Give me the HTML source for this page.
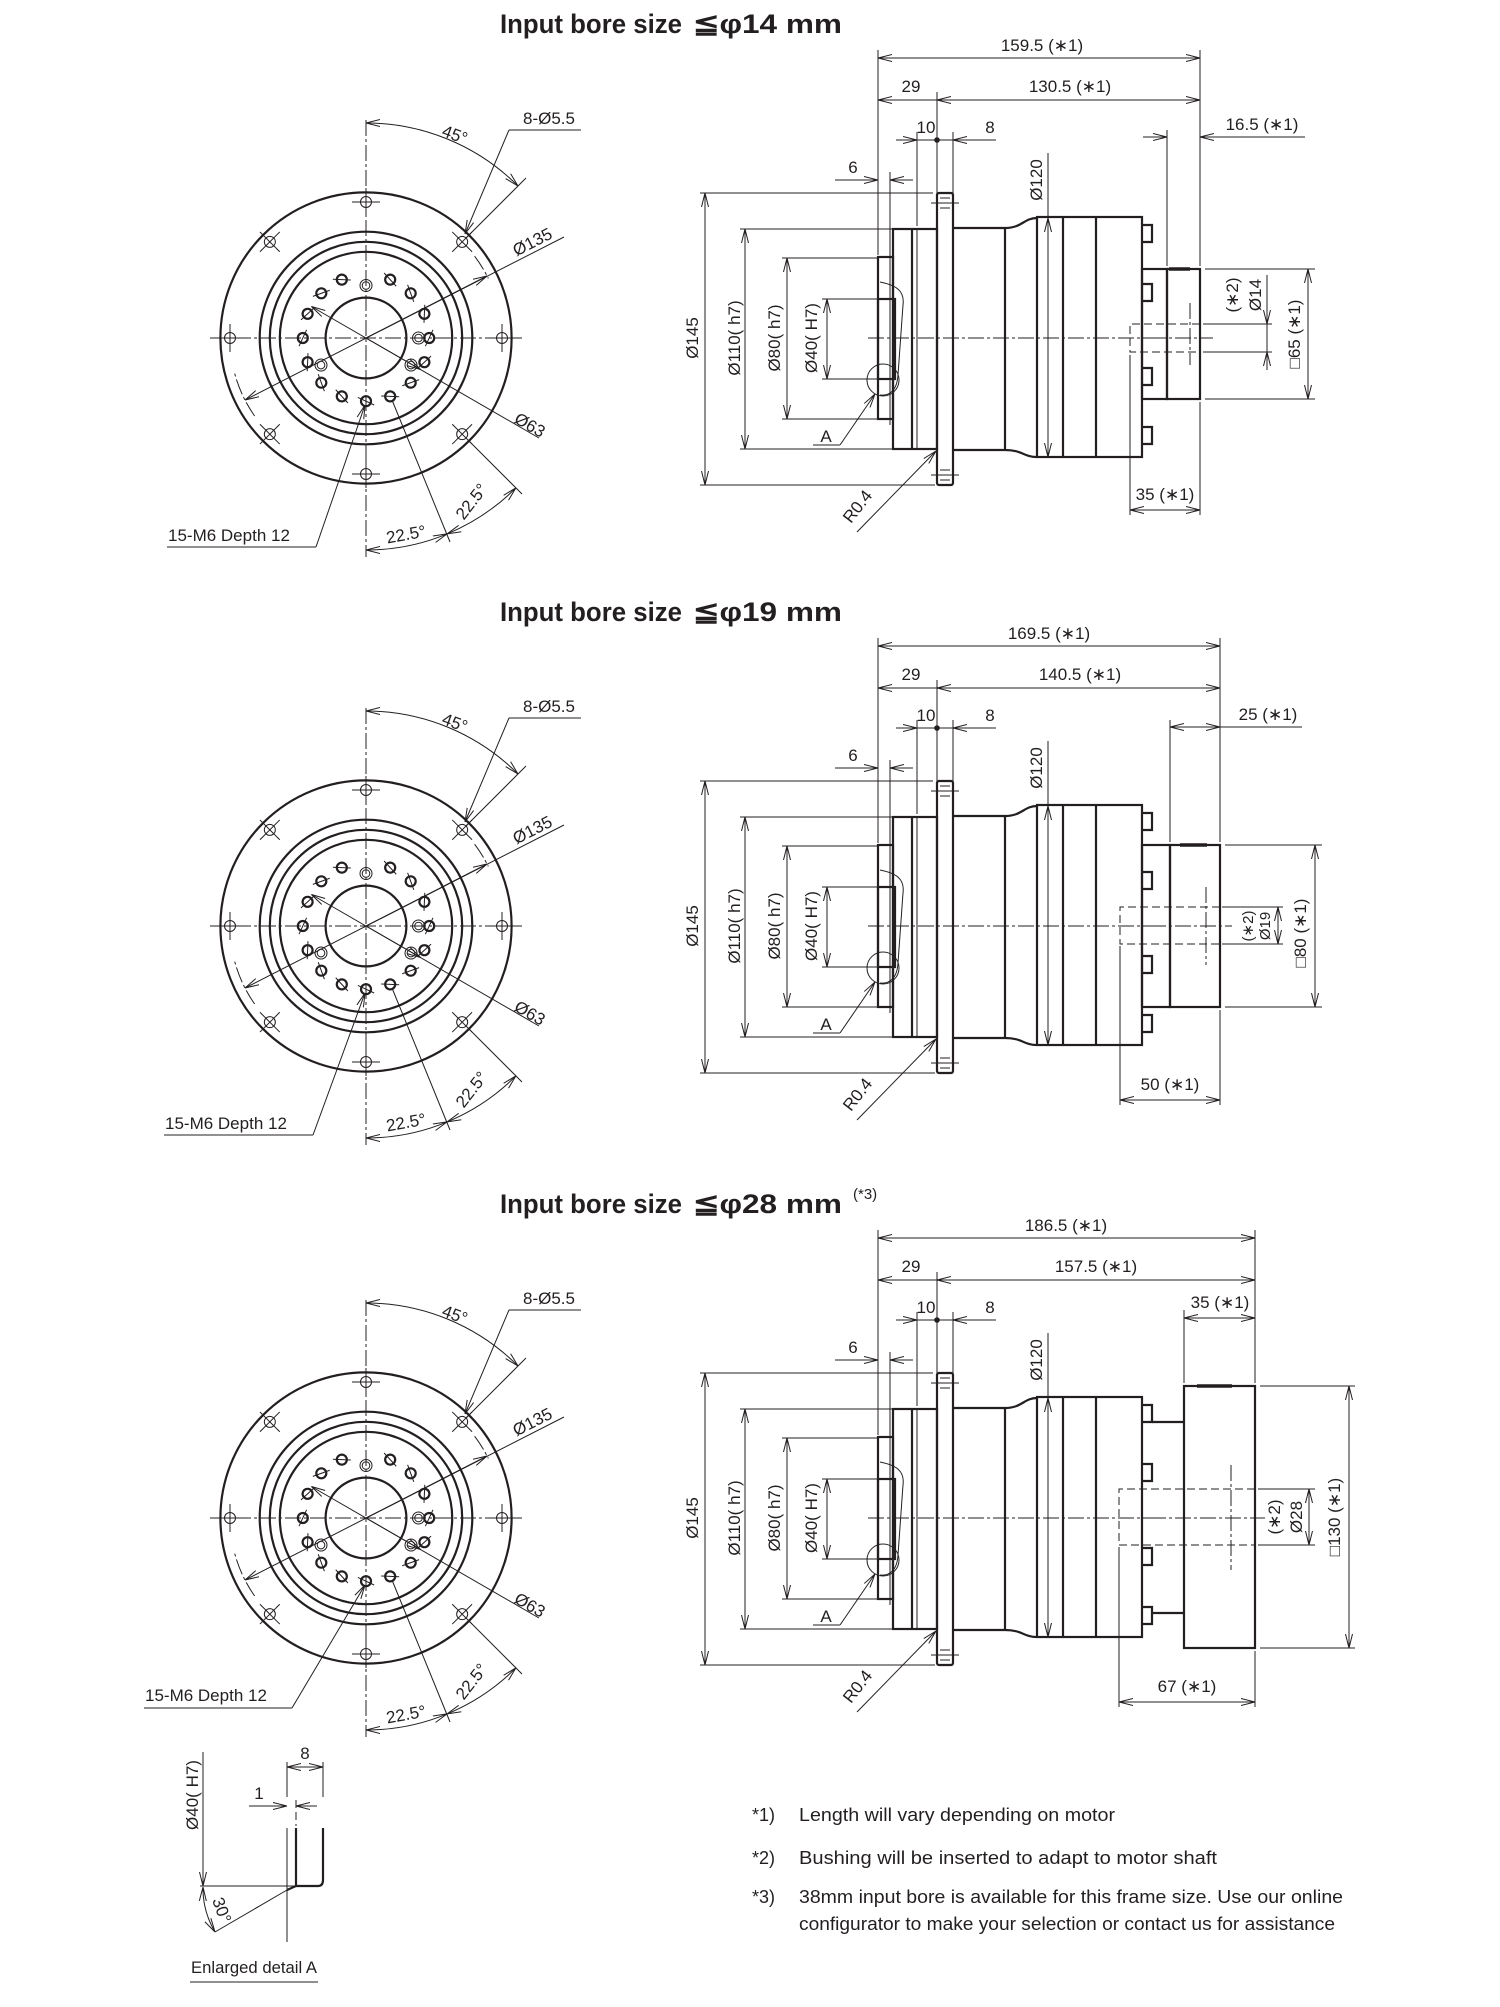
<!DOCTYPE html>
<html><head><meta charset="utf-8"><style>
html,body{margin:0;padding:0;background:#fff}
svg{display:block}
.k{stroke:#231f20;fill:none;stroke-width:2.2}
.t{stroke:#231f20;fill:none;stroke-width:1}
.c{stroke:#231f20;fill:none;stroke-width:1;stroke-dasharray:16 3 3 3}
.d{stroke:#231f20;fill:none;stroke-width:1;stroke-dasharray:8 4}
.m{stroke:#231f20;fill:none;stroke-width:1}
text{fill:#231f20;font-family:"Liberation Sans Narrow","Liberation Sans",sans-serif;font-size:17px}
.ti{font-family:"Liberation Sans",sans-serif;font-weight:bold;font-size:27px}
.no{font-family:"Liberation Sans",sans-serif;font-size:18px}
</style></head><body>
<svg width="1500" height="2007" viewBox="0 0 1500 2007" xmlns="http://www.w3.org/2000/svg">
<defs>
<marker id="a" viewBox="0 0 14 8" refX="14" refY="4" markerWidth="14" markerHeight="8" markerUnits="userSpaceOnUse" orient="auto-start-reverse"><path d="M0,0.5 L14,4 L0,7.5" fill="none" stroke="#231f20" stroke-width="1"/></marker>

<g id="front">
<circle class="k" r="145.6"/><circle class="k" r="106.3"/><circle class="k" r="96.2"/><circle class="k" r="86.2"/><circle class="k" r="40.4"/>
<line class="c" x1="-156" y1="0" x2="156" y2="0"/><line class="c" x1="0" y1="-218" x2="0" y2="219"/>
<g id="oh"><circle class="t" cx="136" cy="0" r="5.5" stroke-width="1.3"/><line class="t" x1="122" y1="0" x2="150" y2="0"/><line class="t" x1="136" y1="-14" x2="136" y2="14"/></g>
<use href="#oh" transform="rotate(45)"/><use href="#oh" transform="rotate(90)"/><use href="#oh" transform="rotate(135)"/><use href="#oh" transform="rotate(180)"/><use href="#oh" transform="rotate(225)"/><use href="#oh" transform="rotate(270)"/><use href="#oh" transform="rotate(315)"/>
<g id="bh"><circle class="k" cx="63.2" cy="0" r="5" stroke-width="1.8"/><line class="t" x1="63.2" y1="-9" x2="63.2" y2="9" transform="rotate(25 63.2 0)"/></g>
<use href="#bh" transform="rotate(22.5)"/><use href="#bh" transform="rotate(45)"/><use href="#bh" transform="rotate(67.5)"/><use href="#bh" transform="rotate(90)"/><use href="#bh" transform="rotate(112.5)"/><use href="#bh" transform="rotate(135)"/><use href="#bh" transform="rotate(157.5)"/><use href="#bh" transform="rotate(180)"/><use href="#bh" transform="rotate(202.5)"/><use href="#bh" transform="rotate(225)"/><use href="#bh" transform="rotate(247.5)"/><use href="#bh" transform="rotate(292.5)"/><use href="#bh" transform="rotate(315)"/><use href="#bh" transform="rotate(337.5)"/>
<g id="dw"><circle class="t" cx="52.5" cy="0" r="6" stroke-width="1.4"/><circle class="t" cx="52.5" cy="0" r="3.8" stroke-width="1.4"/></g>
<use href="#dw" transform="rotate(-90)"/><use href="#dw" transform="rotate(31)"/><use href="#dw" transform="rotate(149)"/>
<path class="c" d="M-111.4,78 A136,136 0 0 1 -131.4,35.2"/><path class="c" d="M108.6,-81.8 A136,136 0 0 1 122.3,-59.6"/>
<line class="m" x1="198" y1="-101" x2="-121" y2="62" marker-end="url(#a)"/>
<line class="m" x1="0" y1="0" x2="121" y2="-62" marker-end="url(#a)"/>
<line class="m" x1="173" y1="100" x2="-54.6" y2="-31.5" marker-end="url(#a)"/>
<line class="m" x1="0" y1="0" x2="54.6" y2="31.5" marker-end="url(#a)"/>
<path class="m" d="M0,-215 A215,215 0 0 1 152,-152" marker-start="url(#a)" marker-end="url(#a)"/>
<line class="t" x1="100" y1="-100" x2="160" y2="-160"/>
<line class="m" x1="143" y1="-208" x2="99" y2="-104" marker-end="url(#a)"/>
<line class="t" x1="143" y1="-208" x2="215" y2="-208"/>
<path class="m" d="M0,212 A212,212 0 0 0 81.1,195.9" marker-start="url(#a)" marker-end="url(#a)"/>
<path class="m" d="M81.1,195.9 A212,212 0 0 0 149.9,149.9" marker-start="url(#a)" marker-end="url(#a)"/>
<line class="t" x1="26" y1="62" x2="84" y2="204"/>
<line class="t" x1="102" y1="102" x2="156" y2="156"/>
</g>

<g id="side">
<rect class="k" x="937" y="193" width="16" height="292" rx="2"/>
<line class="t" x1="931" y1="203" x2="959" y2="203"/><line class="t" x1="931" y1="475" x2="959" y2="475"/>
<line class="t" x1="940" y1="198" x2="950" y2="198"/><line class="t" x1="940" y1="208" x2="950" y2="208"/>
<line class="t" x1="940" y1="470" x2="950" y2="470"/><line class="t" x1="940" y1="480" x2="950" y2="480"/>
<rect class="k" x="893" y="229" width="44" height="220"/>
<line class="k" x1="912" y1="229" x2="912" y2="449"/><line class="t" x1="917" y1="229" x2="917" y2="449"/>
<rect class="k" x="878" y="257" width="15" height="162" stroke-width="1.6"/>
<line class="t" x1="890" y1="250" x2="890" y2="425"/>
<rect class="k" x="878" y="299" width="17" height="80" stroke-width="2.6"/>
<path class="t" d="M880,282 C895,285 905,290 903,305 L898,375 C897,392 888,396 880,395"/>
<circle class="t" cx="883" cy="380" r="16"/>
<line class="k" x1="953" y1="228" x2="1005" y2="228"/><line class="k" x1="953" y1="450" x2="1005" y2="450"/>
<line class="k" x1="1005" y1="228" x2="1005" y2="450"/>
<path class="k" d="M1005,228 C1022,228 1024,218 1037,218"/><path class="k" d="M1005,450 C1022,450 1024,457 1037,457"/>
<rect class="k" x="1037" y="217" width="105" height="240"/>
<line class="k" x1="1063" y1="217" x2="1063" y2="457"/><line class="k" x1="1096" y1="217" x2="1096" y2="457"/>
<path class="k" d="M1142,225 H1152 V242 H1142 M1142,284 H1152 V301 H1142 M1142,368 H1152 V385 H1142 M1142,427 H1152 V444 H1142" stroke-width="1.8"/>
<line class="c" x1="868" y1="338" x2="1150" y2="338"/>
<line class="t" x1="878" y1="50" x2="878" y2="255"/>
<line class="t" x1="937" y1="92" x2="937" y2="193"/>
<line class="m" x1="937" y1="100" x2="878" y2="100" marker-end="url(#a)"/>
<line class="t" x1="917" y1="132" x2="917" y2="226"/><line class="t" x1="953" y1="132" x2="953" y2="193"/>
<line class="m" x1="896" y1="140" x2="917" y2="140" marker-end="url(#a)"/>
<line class="m" x1="996" y1="140" x2="953" y2="140" marker-end="url(#a)"/>
<line class="t" x1="917" y1="140" x2="953" y2="140"/>
<circle cx="937" cy="140" r="2.8" fill="#231f20"/>
<line class="t" x1="890" y1="172" x2="890" y2="250"/>
<line class="m" x1="835" y1="180" x2="878" y2="180" marker-end="url(#a)"/>
<line class="m" x1="913" y1="180" x2="890" y2="180" marker-end="url(#a)"/>
<line class="t" x1="700" y1="193" x2="933" y2="193"/><line class="t" x1="700" y1="485" x2="935" y2="485"/>
<line class="m" x1="705" y1="193" x2="705" y2="485" marker-start="url(#a)" marker-end="url(#a)"/>
<line class="t" x1="740" y1="229" x2="893" y2="229"/><line class="t" x1="740" y1="449" x2="893" y2="449"/>
<line class="m" x1="745" y1="229" x2="745" y2="449" marker-start="url(#a)" marker-end="url(#a)"/>
<line class="t" x1="782" y1="258" x2="878" y2="258"/><line class="t" x1="782" y1="419" x2="878" y2="419"/>
<line class="m" x1="787" y1="258" x2="787" y2="419" marker-start="url(#a)" marker-end="url(#a)"/>
<line class="t" x1="822" y1="299" x2="878" y2="299"/><line class="t" x1="822" y1="379" x2="878" y2="379"/>
<line class="m" x1="827" y1="299" x2="827" y2="379" marker-start="url(#a)" marker-end="url(#a)"/>
<line class="t" x1="1048" y1="153" x2="1048" y2="218"/>
<line class="m" x1="1048" y1="218" x2="1048" y2="457" marker-start="url(#a)" marker-end="url(#a)"/>
<line class="m" x1="840" y1="445" x2="875" y2="394" marker-end="url(#a)"/>
<line class="t" x1="813" y1="445" x2="840" y2="445"/>
<line class="m" x1="857" y1="532" x2="936" y2="451" marker-end="url(#a)"/>
</g>
</defs>

<!-- ============ SECTION 1 ============ -->
<text class="ti" x="500" y="33" textLength="182" lengthAdjust="spacingAndGlyphs">Input bore size</text>
<text class="ti" x="693" y="33" textLength="149" lengthAdjust="spacingAndGlyphs">≦φ14 mm</text>
<use href="#front" transform="translate(366,338)"/>
<use href="#side"/>
<g>
<text x="453" y="140" transform="rotate(20 453 140)" text-anchor="middle">45°</text>
<text x="523" y="124">8-Ø5.5</text>
<text x="535" y="247" transform="rotate(-27 535 247)" text-anchor="middle">Ø135</text>
<text x="527" y="430" transform="rotate(30 527 430)" text-anchor="middle">Ø63</text>
<text x="407" y="540" transform="rotate(-10 407 540)" text-anchor="middle">22.5°</text>
<text x="476" y="505" transform="rotate(-52 476 505)" text-anchor="middle">22.5°</text>
<line class="m" x1="316" y1="547" x2="365" y2="405" marker-end="url(#a)"/>
<line class="t" x1="167" y1="547" x2="316" y2="547"/>
<text x="168" y="541">15-M6 Depth 12</text>
<text x="1042" y="51" text-anchor="middle">159.5 (∗1)</text>
<line class="m" x1="878" y1="58" x2="1200" y2="58" marker-start="url(#a)" marker-end="url(#a)"/>
<text x="911" y="92" text-anchor="middle">29</text>
<text x="1070" y="92" text-anchor="middle">130.5 (∗1)</text>
<line class="m" x1="937" y1="100" x2="1200" y2="100" marker-start="url(#a)" marker-end="url(#a)"/>
<text x="926" y="133" text-anchor="middle">10</text>
<text x="990" y="133" text-anchor="middle">8</text>
<text x="853" y="173" text-anchor="middle">6</text>
<text transform="translate(698,338) rotate(-90)" text-anchor="middle">Ø145</text>
<text transform="translate(740,338) rotate(-90)" text-anchor="middle">Ø110( h7)</text>
<text transform="translate(780,338) rotate(-90)" text-anchor="middle">Ø80( h7)</text>
<text transform="translate(817,338) rotate(-90)" text-anchor="middle">Ø40( H7)</text>
<text transform="translate(1042,180) rotate(-90)" text-anchor="middle">Ø120</text>
<text x="826" y="442" text-anchor="middle">A</text>
<text transform="translate(862,510) rotate(-52)" text-anchor="middle">R0.4</text>
<line class="t" x1="1200" y1="50" x2="1200" y2="266"/>
<line class="t" x1="1167" y1="130" x2="1167" y2="266"/>
<line class="m" x1="1143" y1="137" x2="1167" y2="137" marker-end="url(#a)"/>
<line class="m" x1="1305" y1="137" x2="1200" y2="137" marker-end="url(#a)"/>
<text x="1262" y="130" text-anchor="middle">16.5 (∗1)</text>
<rect class="k" x="1142" y="269" width="25" height="130"/>
<rect class="k" x="1167" y="269" width="33" height="130"/>
<line x1="1169" y1="269" x2="1190" y2="269" stroke="#231f20" stroke-width="3.5"/>
<path class="d" d="M1200,324 H1130 V352 H1200"/>
<line class="c" x1="1190" y1="303" x2="1190" y2="365"/>
<line class="c" x1="1150" y1="338" x2="1213" y2="338"/>
<line class="t" x1="1203" y1="324" x2="1272" y2="324"/><line class="t" x1="1203" y1="352" x2="1272" y2="352"/>
<line class="m" x1="1267" y1="275" x2="1267" y2="324" marker-end="url(#a)"/>
<line class="m" x1="1267" y1="370" x2="1267" y2="352" marker-end="url(#a)"/>
<line class="t" x1="1267" y1="324" x2="1267" y2="352"/>
<line class="t" x1="1205" y1="269" x2="1315" y2="269"/><line class="t" x1="1205" y1="399" x2="1315" y2="399"/>
<line class="m" x1="1308" y1="269" x2="1308" y2="399" marker-start="url(#a)" marker-end="url(#a)"/>
<text transform="translate(1238,295) rotate(-90)" text-anchor="middle">(∗2)</text>
<text transform="translate(1261,295) rotate(-90)" text-anchor="middle">Ø14</text>
<text transform="translate(1300,334) rotate(-90)" text-anchor="middle">□65 (∗1)</text>
<line class="t" x1="1130" y1="355" x2="1130" y2="515"/><line class="t" x1="1200" y1="402" x2="1200" y2="515"/>
<line class="m" x1="1130" y1="510" x2="1200" y2="510" marker-start="url(#a)" marker-end="url(#a)"/>
<text x="1165" y="500" text-anchor="middle">35 (∗1)</text>
</g>

<!-- ============ SECTION 2 ============ -->
<g transform="translate(0,588)">
<text class="ti" x="500" y="33" textLength="182" lengthAdjust="spacingAndGlyphs">Input bore size</text>
<text class="ti" x="693" y="33" textLength="149" lengthAdjust="spacingAndGlyphs">≦φ19 mm</text>
<use href="#front" transform="translate(366,338)"/>
<use href="#side"/>
<text x="453" y="140" transform="rotate(20 453 140)" text-anchor="middle">45°</text>
<text x="523" y="124">8-Ø5.5</text>
<text x="535" y="247" transform="rotate(-27 535 247)" text-anchor="middle">Ø135</text>
<text x="527" y="430" transform="rotate(30 527 430)" text-anchor="middle">Ø63</text>
<text x="407" y="540" transform="rotate(-10 407 540)" text-anchor="middle">22.5°</text>
<text x="476" y="505" transform="rotate(-52 476 505)" text-anchor="middle">22.5°</text>
<line class="m" x1="313" y1="547" x2="365" y2="405" marker-end="url(#a)"/>
<line class="t" x1="164" y1="547" x2="313" y2="547"/>
<text x="165" y="541">15-M6 Depth 12</text>
<text x="1049" y="51" text-anchor="middle">169.5 (∗1)</text>
<line class="m" x1="878" y1="58" x2="1220" y2="58" marker-start="url(#a)" marker-end="url(#a)"/>
<text x="911" y="92" text-anchor="middle">29</text>
<text x="1080" y="92" text-anchor="middle">140.5 (∗1)</text>
<line class="m" x1="937" y1="100" x2="1220" y2="100" marker-start="url(#a)" marker-end="url(#a)"/>
<text x="926" y="133" text-anchor="middle">10</text>
<text x="990" y="133" text-anchor="middle">8</text>
<text x="853" y="173" text-anchor="middle">6</text>
<text transform="translate(698,338) rotate(-90)" text-anchor="middle">Ø145</text>
<text transform="translate(740,338) rotate(-90)" text-anchor="middle">Ø110( h7)</text>
<text transform="translate(780,338) rotate(-90)" text-anchor="middle">Ø80( h7)</text>
<text transform="translate(817,338) rotate(-90)" text-anchor="middle">Ø40( H7)</text>
<text transform="translate(1042,180) rotate(-90)" text-anchor="middle">Ø120</text>
<text x="826" y="442" text-anchor="middle">A</text>
<text transform="translate(862,510) rotate(-52)" text-anchor="middle">R0.4</text>
<line class="t" x1="1220" y1="50" x2="1220" y2="254"/>
<line class="t" x1="1170" y1="132" x2="1170" y2="254"/>
<line class="m" x1="1170" y1="139" x2="1220" y2="139" marker-start="url(#a)" marker-end="url(#a)"/>
<line class="t" x1="1220" y1="139" x2="1302" y2="139"/>
<text x="1268" y="132" text-anchor="middle">25 (∗1)</text>
<rect class="k" x="1142" y="257" width="28" height="162"/>
<rect class="k" x="1170" y="257" width="50" height="162"/>
<line x1="1180" y1="257" x2="1207" y2="257" stroke="#231f20" stroke-width="3.5"/>
<path class="d" d="M1220,319 H1120 V356 H1220"/>
<line class="c" x1="1206" y1="299" x2="1206" y2="377"/>
<line class="c" x1="1150" y1="338" x2="1232" y2="338"/>
<line class="t" x1="1222" y1="319" x2="1283" y2="319"/><line class="t" x1="1222" y1="356" x2="1283" y2="356"/>
<line class="m" x1="1278" y1="319" x2="1278" y2="356" marker-start="url(#a)" marker-end="url(#a)"/>
<line class="t" x1="1225" y1="257" x2="1322" y2="257"/><line class="t" x1="1225" y1="419" x2="1322" y2="419"/>
<line class="m" x1="1315" y1="257" x2="1315" y2="419" marker-start="url(#a)" marker-end="url(#a)"/>
<text transform="translate(1253,338) rotate(-90)" text-anchor="middle" style="font-size:15px">(∗2)</text>
<text transform="translate(1270,338) rotate(-90)" text-anchor="middle" style="font-size:15px">Ø19</text>
<text transform="translate(1306,345) rotate(-90)" text-anchor="middle">□80 (∗1)</text>
<line class="t" x1="1120" y1="358" x2="1120" y2="517"/><line class="t" x1="1220" y1="422" x2="1220" y2="517"/>
<line class="m" x1="1120" y1="512" x2="1220" y2="512" marker-start="url(#a)" marker-end="url(#a)"/>
<text x="1170" y="502" text-anchor="middle">50 (∗1)</text>
</g>

<!-- ============ SECTION 3 ============ -->
<g transform="translate(0,1180)">
<text class="ti" x="500" y="33" textLength="182" lengthAdjust="spacingAndGlyphs">Input bore size</text>
<text class="ti" x="693" y="33" textLength="149" lengthAdjust="spacingAndGlyphs">≦φ28 mm</text>
<text x="853" y="19" style="font-family:'Liberation Sans',sans-serif;font-size:15px">(*3)</text>
<use href="#front" transform="translate(366,338)"/>
<use href="#side"/>
<text x="453" y="140" transform="rotate(20 453 140)" text-anchor="middle">45°</text>
<text x="523" y="124">8-Ø5.5</text>
<text x="535" y="247" transform="rotate(-27 535 247)" text-anchor="middle">Ø135</text>
<text x="527" y="430" transform="rotate(30 527 430)" text-anchor="middle">Ø63</text>
<text x="407" y="540" transform="rotate(-10 407 540)" text-anchor="middle">22.5°</text>
<text x="476" y="505" transform="rotate(-52 476 505)" text-anchor="middle">22.5°</text>
<line class="m" x1="292" y1="528" x2="365" y2="405" marker-end="url(#a)"/>
<line class="t" x1="144" y1="528" x2="292" y2="528"/>
<text x="145" y="521">15-M6 Depth 12</text>
<text x="1066" y="51" text-anchor="middle">186.5 (∗1)</text>
<line class="m" x1="878" y1="58" x2="1255" y2="58" marker-start="url(#a)" marker-end="url(#a)"/>
<text x="911" y="92" text-anchor="middle">29</text>
<text x="1096" y="92" text-anchor="middle">157.5 (∗1)</text>
<line class="m" x1="937" y1="100" x2="1255" y2="100" marker-start="url(#a)" marker-end="url(#a)"/>
<text x="926" y="133" text-anchor="middle">10</text>
<text x="990" y="133" text-anchor="middle">8</text>
<text x="853" y="173" text-anchor="middle">6</text>
<text transform="translate(698,338) rotate(-90)" text-anchor="middle">Ø145</text>
<text transform="translate(740,338) rotate(-90)" text-anchor="middle">Ø110( h7)</text>
<text transform="translate(780,338) rotate(-90)" text-anchor="middle">Ø80( h7)</text>
<text transform="translate(817,338) rotate(-90)" text-anchor="middle">Ø40( H7)</text>
<text transform="translate(1042,180) rotate(-90)" text-anchor="middle">Ø120</text>
<text x="826" y="442" text-anchor="middle">A</text>
<text transform="translate(862,510) rotate(-52)" text-anchor="middle">R0.4</text>
<line class="t" x1="1255" y1="50" x2="1255" y2="203"/>
<line class="t" x1="1184" y1="130" x2="1184" y2="203"/>
<line class="m" x1="1184" y1="138" x2="1255" y2="138" marker-start="url(#a)" marker-end="url(#a)"/>
<text x="1220" y="128" text-anchor="middle">35 (∗1)</text>
<rect class="k" x="1184" y="206" width="71" height="262"/>
<line x1="1197" y1="206" x2="1232" y2="206" stroke="#231f20" stroke-width="3.5"/>
<line class="k" x1="1152" y1="242" x2="1184" y2="242" stroke-width="1.8"/>
<line class="k" x1="1152" y1="433" x2="1184" y2="433" stroke-width="1.8"/>
<path class="d" d="M1255,309 H1119 V365 H1255"/>
<line class="c" x1="1231" y1="285" x2="1231" y2="390"/>
<line class="c" x1="1150" y1="338" x2="1265" y2="338"/>
<line class="t" x1="1258" y1="309" x2="1315" y2="309"/><line class="t" x1="1258" y1="365" x2="1315" y2="365"/>
<line class="m" x1="1309" y1="309" x2="1309" y2="365" marker-start="url(#a)" marker-end="url(#a)"/>
<line class="t" x1="1260" y1="206" x2="1355" y2="206"/><line class="t" x1="1260" y1="468" x2="1355" y2="468"/>
<line class="m" x1="1349" y1="206" x2="1349" y2="468" marker-start="url(#a)" marker-end="url(#a)"/>
<text transform="translate(1280,337) rotate(-90)" text-anchor="middle">(∗2)</text>
<text transform="translate(1302,337) rotate(-90)" text-anchor="middle">Ø28</text>
<text transform="translate(1340,337) rotate(-90)" text-anchor="middle">□130 (∗1)</text>
<line class="t" x1="1119" y1="367" x2="1119" y2="527"/><line class="t" x1="1255" y1="471" x2="1255" y2="527"/>
<line class="m" x1="1119" y1="522" x2="1255" y2="522" marker-start="url(#a)" marker-end="url(#a)"/>
<text x="1187" y="512" text-anchor="middle">67 (∗1)</text>
</g>

<!-- ============ DETAIL A ============ -->
<g>
<line class="m" x1="203" y1="1752" x2="203" y2="1886" marker-end="url(#a)"/>
<text transform="translate(198,1795) rotate(-90)" text-anchor="middle">Ø40( H7)</text>
<line class="t" x1="200" y1="1886" x2="296" y2="1886"/>
<line class="t" x1="287" y1="1762" x2="287" y2="1797"/><line class="t" x1="287" y1="1828" x2="287" y2="1942"/>
<line class="t" x1="323" y1="1762" x2="323" y2="1797"/>
<line class="d" x1="296" y1="1800" x2="296" y2="1826"/>
<path class="k" d="M296,1828 V1886 H318 Q323,1886 323,1880 V1828"/>
<line class="k" x1="287" y1="1890" x2="296" y2="1886"/>
<line class="t" x1="215" y1="1932" x2="287" y2="1890"/>
<path class="m" d="M203,1887 A86,86 0 0 0 215,1932" marker-start="url(#a)" marker-end="url(#a)"/>
<text transform="translate(212,1900) rotate(70)" text-anchor="start">30°</text>
<line class="m" x1="287" y1="1767" x2="323" y2="1767" marker-start="url(#a)" marker-end="url(#a)"/>
<text x="305" y="1759" text-anchor="middle">8</text>
<line class="m" x1="249" y1="1806" x2="287" y2="1806" marker-end="url(#a)"/>
<line class="m" x1="317" y1="1806" x2="296" y2="1806" marker-end="url(#a)"/>
<text x="259" y="1799" text-anchor="middle">1</text>
<text x="191" y="1973" textLength="126" lengthAdjust="spacingAndGlyphs" style="font-size:17px">Enlarged detail A</text>
<line class="t" x1="190" y1="1982" x2="318" y2="1982"/>
</g>

<!-- ============ NOTES ============ -->
<g class="no">
<text class="no" x="752" y="1821">*1)</text>
<text class="no" x="799" y="1821" textLength="316" lengthAdjust="spacingAndGlyphs">Length will vary depending on motor</text>
<text class="no" x="752" y="1864">*2)</text>
<text class="no" x="799" y="1864" textLength="418" lengthAdjust="spacingAndGlyphs">Bushing will be inserted to adapt to motor shaft</text>
<text class="no" x="752" y="1903">*3)</text>
<text class="no" x="799" y="1903" textLength="544" lengthAdjust="spacingAndGlyphs">38mm input bore is available for this frame size. Use our online</text>
<text class="no" x="799" y="1930" textLength="536" lengthAdjust="spacingAndGlyphs">configurator to make your selection or contact us for assistance</text>
</g>
</svg>
</body></html>
